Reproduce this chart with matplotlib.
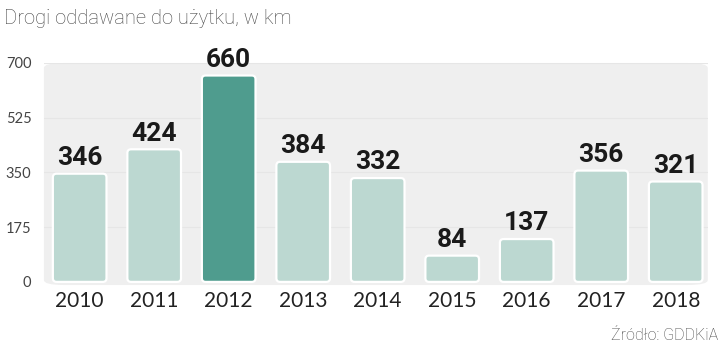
import numpy as np
import matplotlib
matplotlib.use("Agg")
import matplotlib.pyplot as plt
from matplotlib.patches import FancyBboxPatch

years = ['2010', '2011', '2012', '2013', '2014', '2015', '2016', '2017', '2018']
values = [346, 424, 660, 384, 332, 84, 137, 356, 321]
highlight = '2012'
yticks = [0, 175, 350, 525, 700]

light = '#bcd8d1'
dark = '#4f9c8e'

fig = plt.figure(figsize=(7.2, 3.48), dpi=100)
ax = fig.add_axes([0.061, 0.181, 0.922, 0.638])
ax.set_xlim(-0.48, 8.43)
ax.set_ylim(-10, 700)
ax.set_facecolor('none')

# rounded gray panel behind the bars
panel = FancyBboxPatch((0, 0), 1, 1, transform=ax.transAxes,
                       boxstyle="round,pad=0,rounding_size=0.03",
                       mutation_aspect=0.75,
                       fc='#efefef', ec='none', zorder=0, clip_on=False)
ax.add_patch(panel)

for t in yticks[1:]:
    ax.axhline(t, color='#e6e6e6', lw=0.8, zorder=1)

x = np.arange(len(years))
bars = ax.bar(x, values, width=0.72, color=light, zorder=2)
aspect = (710 / 222) / (8.91 / 664)
for b, yr, v in zip(bars, years, values):
    b.set_visible(False)
    p = FancyBboxPatch((b.get_x(), 0), b.get_width(), v,
                       boxstyle="round,pad=0,rounding_size=0.05",
                       mutation_aspect=aspect,
                       fc=dark if yr == highlight else light,
                       ec='white', lw=1.6, zorder=3)
    ax.add_patch(p)
    ax.text(b.get_x() + b.get_width() / 2, v + 12, str(v),
            ha='center', va='bottom', fontsize=19, fontweight='bold',
            fontstretch='condensed', family=['Roboto', 'DejaVu Sans'],
            color='#1a1a1a')

ax.set_xticks(x)
ax.set_xticklabels(years, fontsize=15, color='#222222', family='Lato')
ax.set_yticks(yticks)
ax.set_yticklabels([str(t) for t in yticks], fontsize=10.5, color='#444444', family='Lato')
ax.tick_params(length=0)
ax.tick_params(axis='x', pad=4)
ax.tick_params(axis='y', pad=9)
for s in ax.spines.values():
    s.set_visible(False)

fig.text(0.006, 0.975, 'Drogi oddawane do użytku, w km', ha='left', va='top',
         fontsize=14.5, color='#444444', family='Roboto', fontweight='light')
fig.text(0.997, 0.015, 'Źródło: GDDKiA', ha='right', va='bottom',
         fontsize=11.5, color='#444444', family='Roboto', fontweight='light')

fig.savefig('out.png', dpi=100)
